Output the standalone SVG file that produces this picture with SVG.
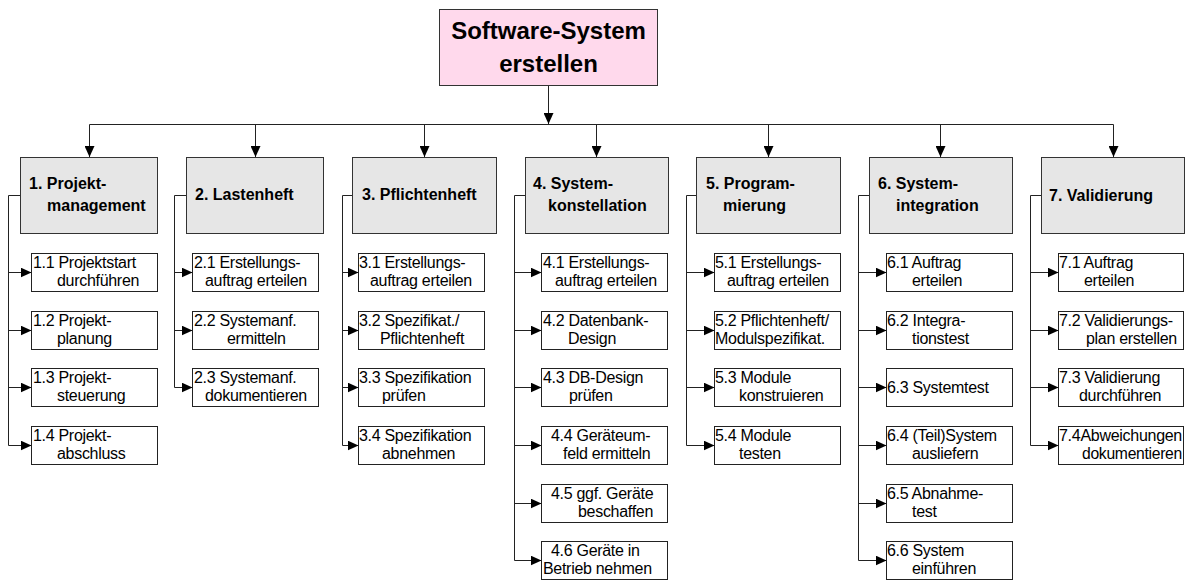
<svg xmlns="http://www.w3.org/2000/svg" width="1185" height="581" viewBox="0 0 1185 581">
<style>
.root{fill:#FFD9EC;stroke:#333;stroke-width:1}
.hdr{fill:#E6E6E6;stroke:#333;stroke-width:1}
.box{fill:#FFFFFF;stroke:#222;stroke-width:1}
.tt{font-family:"Liberation Sans",Arial,sans-serif;font-weight:bold;font-size:24px;fill:#000;text-anchor:middle}
.th{font-family:"Liberation Sans",Arial,sans-serif;font-weight:bold;font-size:16px;fill:#000}
.t{font-family:"Liberation Sans",Arial,sans-serif;font-size:16px;fill:#000;letter-spacing:-0.3px}
.ln{fill:none;stroke:#222;stroke-width:1}
</style>
<defs>
<marker id="ah" markerUnits="userSpaceOnUse" markerWidth="11" markerHeight="10" refX="11" refY="5" orient="auto">
<path d="M0,0 L11,5 L0,10 z" fill="#000"/>
</marker>
</defs>
<g id="connectors">
<path class="ln" d="M548.5,86 V124" marker-end="url(#ah)"/>
<path class="ln" d="M89.5,124.5 H1113.5"/>
<path class="ln" d="M89.5,124.5 V157" marker-end="url(#ah)"/>
<path class="ln" d="M255.5,124.5 V157" marker-end="url(#ah)"/>
<path class="ln" d="M424.5,124.5 V157" marker-end="url(#ah)"/>
<path class="ln" d="M596.5,124.5 V157" marker-end="url(#ah)"/>
<path class="ln" d="M768.5,124.5 V157" marker-end="url(#ah)"/>
<path class="ln" d="M940.5,124.5 V157" marker-end="url(#ah)"/>
<path class="ln" d="M1113.5,124.5 V157" marker-end="url(#ah)"/>
<path class="ln" d="M20.5,195.5 H8.5 V445.5"/>
<path class="ln" d="M8.5,272.5 H31.5" marker-end="url(#ah)"/>
<path class="ln" d="M8.5,330.5 H31.5" marker-end="url(#ah)"/>
<path class="ln" d="M8.5,387.5 H31.5" marker-end="url(#ah)"/>
<path class="ln" d="M8.5,445.5 H31.5" marker-end="url(#ah)"/>
<path class="ln" d="M186.5,195.5 H174.5 V387.5"/>
<path class="ln" d="M174.5,272.5 H192.5" marker-end="url(#ah)"/>
<path class="ln" d="M174.5,330.5 H192.5" marker-end="url(#ah)"/>
<path class="ln" d="M174.5,387.5 H192.5" marker-end="url(#ah)"/>
<path class="ln" d="M352.5,195.5 H342.5 V445.5"/>
<path class="ln" d="M342.5,272.5 H358.5" marker-end="url(#ah)"/>
<path class="ln" d="M342.5,330.5 H358.5" marker-end="url(#ah)"/>
<path class="ln" d="M342.5,387.5 H358.5" marker-end="url(#ah)"/>
<path class="ln" d="M342.5,445.5 H358.5" marker-end="url(#ah)"/>
<path class="ln" d="M525.5,195.5 H514.5 V560.5"/>
<path class="ln" d="M514.5,272.5 H541.5" marker-end="url(#ah)"/>
<path class="ln" d="M514.5,330.5 H541.5" marker-end="url(#ah)"/>
<path class="ln" d="M514.5,387.5 H541.5" marker-end="url(#ah)"/>
<path class="ln" d="M514.5,445.5 H541.5" marker-end="url(#ah)"/>
<path class="ln" d="M514.5,503.5 H541.5" marker-end="url(#ah)"/>
<path class="ln" d="M514.5,560.5 H541.5" marker-end="url(#ah)"/>
<path class="ln" d="M696.5,195.5 H686.5 V445.5"/>
<path class="ln" d="M686.5,272.5 H714.5" marker-end="url(#ah)"/>
<path class="ln" d="M686.5,330.5 H714.5" marker-end="url(#ah)"/>
<path class="ln" d="M686.5,387.5 H714.5" marker-end="url(#ah)"/>
<path class="ln" d="M686.5,445.5 H714.5" marker-end="url(#ah)"/>
<path class="ln" d="M869.5,195.5 H858.5 V560.5"/>
<path class="ln" d="M858.5,272.5 H886.5" marker-end="url(#ah)"/>
<path class="ln" d="M858.5,330.5 H886.5" marker-end="url(#ah)"/>
<path class="ln" d="M858.5,387.5 H886.5" marker-end="url(#ah)"/>
<path class="ln" d="M858.5,445.5 H886.5" marker-end="url(#ah)"/>
<path class="ln" d="M858.5,503.5 H886.5" marker-end="url(#ah)"/>
<path class="ln" d="M858.5,560.5 H886.5" marker-end="url(#ah)"/>
<path class="ln" d="M1041.5,195.5 H1030.5 V445.5"/>
<path class="ln" d="M1030.5,272.5 H1058.5" marker-end="url(#ah)"/>
<path class="ln" d="M1030.5,330.5 H1058.5" marker-end="url(#ah)"/>
<path class="ln" d="M1030.5,387.5 H1058.5" marker-end="url(#ah)"/>
<path class="ln" d="M1030.5,445.5 H1058.5" marker-end="url(#ah)"/>
</g>

<g id="root"><rect class="root" x="439.5" y="9.5" width="218" height="76"/>
<text class="tt" x="548.5" y="39">Software-System</text><text class="tt" x="548.5" y="72">erstellen</text></g>

<g id="h1"><rect class="hdr" x="20.5" y="157.5" width="137" height="76"/><text class="th" x="29" y="189">1. Projekt-</text><text class="th" x="47" y="211">management</text></g>
<g id="h2"><rect class="hdr" x="186.5" y="157.5" width="137" height="76"/><text class="th" x="195" y="200">2. Lastenheft</text></g>
<g id="h3"><rect class="hdr" x="352.5" y="157.5" width="144" height="76"/><text class="th" x="362" y="200">3. Pflichtenheft</text></g>
<g id="h4"><rect class="hdr" x="525.5" y="157.5" width="143" height="76"/><text class="th" x="533" y="189">4. System-</text><text class="th" x="548" y="211">konstellation</text></g>
<g id="h5"><rect class="hdr" x="696.5" y="157.5" width="144" height="76"/><text class="th" x="706" y="189">5. Program-</text><text class="th" x="723" y="211">mierung</text></g>
<g id="h6"><rect class="hdr" x="869.5" y="157.5" width="143" height="76"/><text class="th" x="878" y="189">6. System-</text><text class="th" x="896" y="211">integration</text></g>
<g id="h7"><rect class="hdr" x="1041.5" y="157.5" width="143" height="76"/><text class="th" x="1049" y="201">7. Validierung</text></g>

<g id="n1-1"><rect class="box" x="31.5" y="253.5" width="126" height="38"/><text class="t" x="33" y="268">1.1 Projektstart</text><text class="t" x="57" y="286">durchführen</text></g>
<g id="n1-2"><rect class="box" x="31.5" y="311.5" width="126" height="38"/><text class="t" x="33" y="326">1.2 Projekt-</text><text class="t" x="57" y="344">planung</text></g>
<g id="n1-3"><rect class="box" x="31.5" y="368.5" width="126" height="38"/><text class="t" x="33" y="383">1.3 Projekt-</text><text class="t" x="57" y="401">steuerung</text></g>
<g id="n1-4"><rect class="box" x="31.5" y="426.5" width="126" height="38"/><text class="t" x="33" y="441">1.4 Projekt-</text><text class="t" x="57" y="459">abschluss</text></g>

<g id="n2-1"><rect class="box" x="192.5" y="253.5" width="126" height="38"/><text class="t" x="194" y="268">2.1 Erstellungs-</text><text class="t" x="205" y="286">auftrag erteilen</text></g>
<g id="n2-2"><rect class="box" x="192.5" y="311.5" width="126" height="38"/><text class="t" x="194" y="326">2.2 Systemanf.</text><text class="t" x="227" y="344">ermitteln</text></g>
<g id="n2-3"><rect class="box" x="192.5" y="368.5" width="126" height="38"/><text class="t" x="194" y="383">2.3 Systemanf.</text><text class="t" x="205" y="401">dokumentieren</text></g>

<g id="n3-1"><rect class="box" x="358.5" y="253.5" width="126" height="38"/><text class="t" x="359" y="268">3.1 Erstellungs-</text><text class="t" x="370" y="286">auftrag erteilen</text></g>
<g id="n3-2"><rect class="box" x="358.5" y="311.5" width="126" height="38"/><text class="t" x="359" y="326">3.2 Spezifikat./</text><text class="t" x="380" y="344">Pflichtenheft</text></g>
<g id="n3-3"><rect class="box" x="358.5" y="368.5" width="126" height="38"/><text class="t" x="359" y="383">3.3 Spezifikation</text><text class="t" x="382" y="401">prüfen</text></g>
<g id="n3-4"><rect class="box" x="358.5" y="426.5" width="126" height="38"/><text class="t" x="359" y="441">3.4 Spezifikation</text><text class="t" x="382" y="459">abnehmen</text></g>

<g id="n4-1"><rect class="box" x="541.5" y="253.5" width="126" height="38"/><text class="t" x="543" y="268">4.1 Erstellungs-</text><text class="t" x="555" y="286">auftrag erteilen</text></g>
<g id="n4-2"><rect class="box" x="541.5" y="311.5" width="126" height="38"/><text class="t" x="543" y="326">4.2 Datenbank-</text><text class="t" x="568" y="344">Design</text></g>
<g id="n4-3"><rect class="box" x="541.5" y="368.5" width="126" height="38"/><text class="t" x="543" y="383">4.3 DB-Design</text><text class="t" x="569" y="401">prüfen</text></g>
<g id="n4-4"><rect class="box" x="541.5" y="426.5" width="126" height="38"/><text class="t" x="551" y="441">4.4 Geräteum-</text><text class="t" x="563" y="459">feld ermitteln</text></g>
<g id="n4-5"><rect class="box" x="541.5" y="484.5" width="126" height="38"/><text class="t" x="551" y="499">4.5 ggf. Geräte</text><text class="t" x="578" y="517">beschaffen</text></g>
<g id="n4-6"><rect class="box" x="541.5" y="541.5" width="126" height="38"/><text class="t" x="551" y="556">4.6 Geräte in</text><text class="t" x="543" y="574">Betrieb nehmen</text></g>

<g id="n5-1"><rect class="box" x="714.5" y="253.5" width="126" height="38"/><text class="t" x="715" y="268">5.1 Erstellungs-</text><text class="t" x="727" y="286">auftrag erteilen</text></g>
<g id="n5-2"><rect class="box" x="714.5" y="311.5" width="126" height="38"/><text class="t" x="715" y="326">5.2 Pflichtenheft/</text><text class="t" x="715" y="344">Modulspezifikat.</text></g>
<g id="n5-3"><rect class="box" x="714.5" y="368.5" width="126" height="38"/><text class="t" x="715" y="383">5.3 Module</text><text class="t" x="739" y="401">konstruieren</text></g>
<g id="n5-4"><rect class="box" x="714.5" y="426.5" width="126" height="38"/><text class="t" x="715" y="441">5.4 Module</text><text class="t" x="739" y="459">testen</text></g>

<g id="n6-1"><rect class="box" x="886.5" y="253.5" width="126" height="38"/><text class="t" x="887" y="268">6.1 Auftrag</text><text class="t" x="912" y="286">erteilen</text></g>
<g id="n6-2"><rect class="box" x="886.5" y="311.5" width="126" height="38"/><text class="t" x="887" y="326">6.2 Integra-</text><text class="t" x="912" y="344">tionstest</text></g>
<g id="n6-3"><rect class="box" x="886.5" y="368.5" width="126" height="38"/><text class="t" x="887" y="393">6.3 Systemtest</text></g>
<g id="n6-4"><rect class="box" x="886.5" y="426.5" width="126" height="38"/><text class="t" x="887" y="441">6.4 (Teil)System</text><text class="t" x="912" y="459">ausliefern</text></g>
<g id="n6-5"><rect class="box" x="886.5" y="484.5" width="126" height="38"/><text class="t" x="887" y="499">6.5 Abnahme-</text><text class="t" x="912" y="517">test</text></g>
<g id="n6-6"><rect class="box" x="886.5" y="541.5" width="126" height="38"/><text class="t" x="887" y="556">6.6 System</text><text class="t" x="912" y="574">einführen</text></g>

<g id="n7-1"><rect class="box" x="1058.5" y="253.5" width="125" height="38"/><text class="t" x="1059" y="268">7.1 Auftrag</text><text class="t" x="1084" y="286">erteilen</text></g>
<g id="n7-2"><rect class="box" x="1058.5" y="311.5" width="125" height="38"/><text class="t" x="1059" y="326">7.2 Validierungs-</text><text class="t" x="1086" y="344">plan erstellen</text></g>
<g id="n7-3"><rect class="box" x="1058.5" y="368.5" width="125" height="38"/><text class="t" x="1059" y="383">7.3 Validierung</text><text class="t" x="1079" y="401">durchführen</text></g>
<g id="n7-4"><rect class="box" x="1058.5" y="426.5" width="125" height="38"/><text class="t" x="1059" y="441" textLength="123" lengthAdjust="spacingAndGlyphs">7.4Abweichungen</text><text class="t" x="1082" y="459" textLength="100" lengthAdjust="spacingAndGlyphs">dokumentieren</text></g>
</svg>
